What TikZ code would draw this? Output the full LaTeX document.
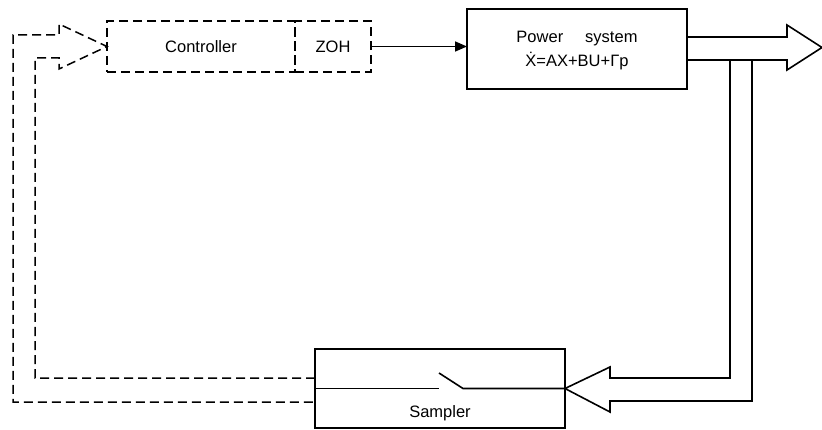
\documentclass[tikz,border=0pt]{standalone}
\usepackage{fontspec}
\setmainfont{Liberation Sans}
\usetikzlibrary{arrows.meta,calc}
\begin{document}
\begin{tikzpicture}[x=1pt,y=-1pt,
  solidline/.style={line width=1.6pt,line join=miter},
  dashline/.style={line width=1.5pt,dash pattern=on 9pt off 5pt},
  box/.style={draw,solidline,inner sep=0pt,outer sep=0pt,align=center},
  dbox/.style={draw,dashline,inner sep=0pt,outer sep=0pt,align=center},
  txt/.style={font=\fontsize{16.5}{24}\selectfont,align=center}]
\useasboundingbox (0,0) rectangle (822,430);
% blocks
\node[dbox,txt,minimum width=188pt,minimum height=51pt] (ctrl) at (201,46.5) {Controller};
\node[dbox,txt,minimum width=76pt,minimum height=51pt] (zoh) at (333,46.5) {ZOH};
\node[box,minimum width=220pt,minimum height=80pt] (ps) at (577,49) {};
\node[txt,inner sep=0pt] (pstext) at (577,51) {Power\hspace{22pt}system\\Ẋ=AX+BU+Γp};
\node[box,minimum width=250pt,minimum height=79pt] (samp) at (440,388.5) {};
\node[txt,inner sep=0pt] (samplbl) at (440,413) {Sampler};
% ZOH -> power system
\draw[solidline,-{Triangle[length=12pt,width=10pt]}] (zoh.east) -- (zoh.east -| ps.west);
% output fat arrow
\coordinate (o1) at (787,37);
\coordinate (o2) at (787,25);
\coordinate (otip) at (822,47.5);
\coordinate (o3) at (787,70);
\coordinate (o4) at (787,60);
\draw[solidline] (o1 -| ps.east) -- (o1) -- (o2) -- (otip) -- (o3) -- (o4) -- (o4 -| ps.east);
% feedback fat arrow into sampler
\coordinate (f1) at (730,60);
\coordinate (f2) at (730,378);
\coordinate (f3) at (610,378);
\coordinate (f4) at (610,367);
\coordinate (f5) at (610,412);
\coordinate (f6) at (610,401);
\coordinate (f7) at (752,401);
\coordinate (f8) at (752,60);
\draw[solidline] (f1) -- (f2) -- (f3) -- (f4) -- (samp.east) -- (f5) -- (f6) -- (f7) -- (f8);
% switch inside sampler
\coordinate (s1) at (439,388.5);
\coordinate (s2) at (439,373);
\coordinate (s3) at (463,388.5);
\draw[solidline] (samp.west) -- (s1);
\draw[solidline] (s2) -- (s3) -- (samp.east);
% dashed feedback arrow to controller
\coordinate (d1) at (35,378);
\coordinate (d2) at (35,58);
\coordinate (d3) at (59,58);
\coordinate (d4) at (59,69);
\coordinate (d5) at (59,24);
\coordinate (d6) at (59,35);
\coordinate (d7) at (13,35);
\coordinate (d8) at (13,402);
\draw[dashline] (d1 -| samp.west) -- (d1) -- (d2) -- (d3) -- (d4) -- (ctrl.west) -- (d5) -- (d6) -- (d7) -- (d8) -- (d8 -| samp.west);
\end{tikzpicture}
\end{document}
